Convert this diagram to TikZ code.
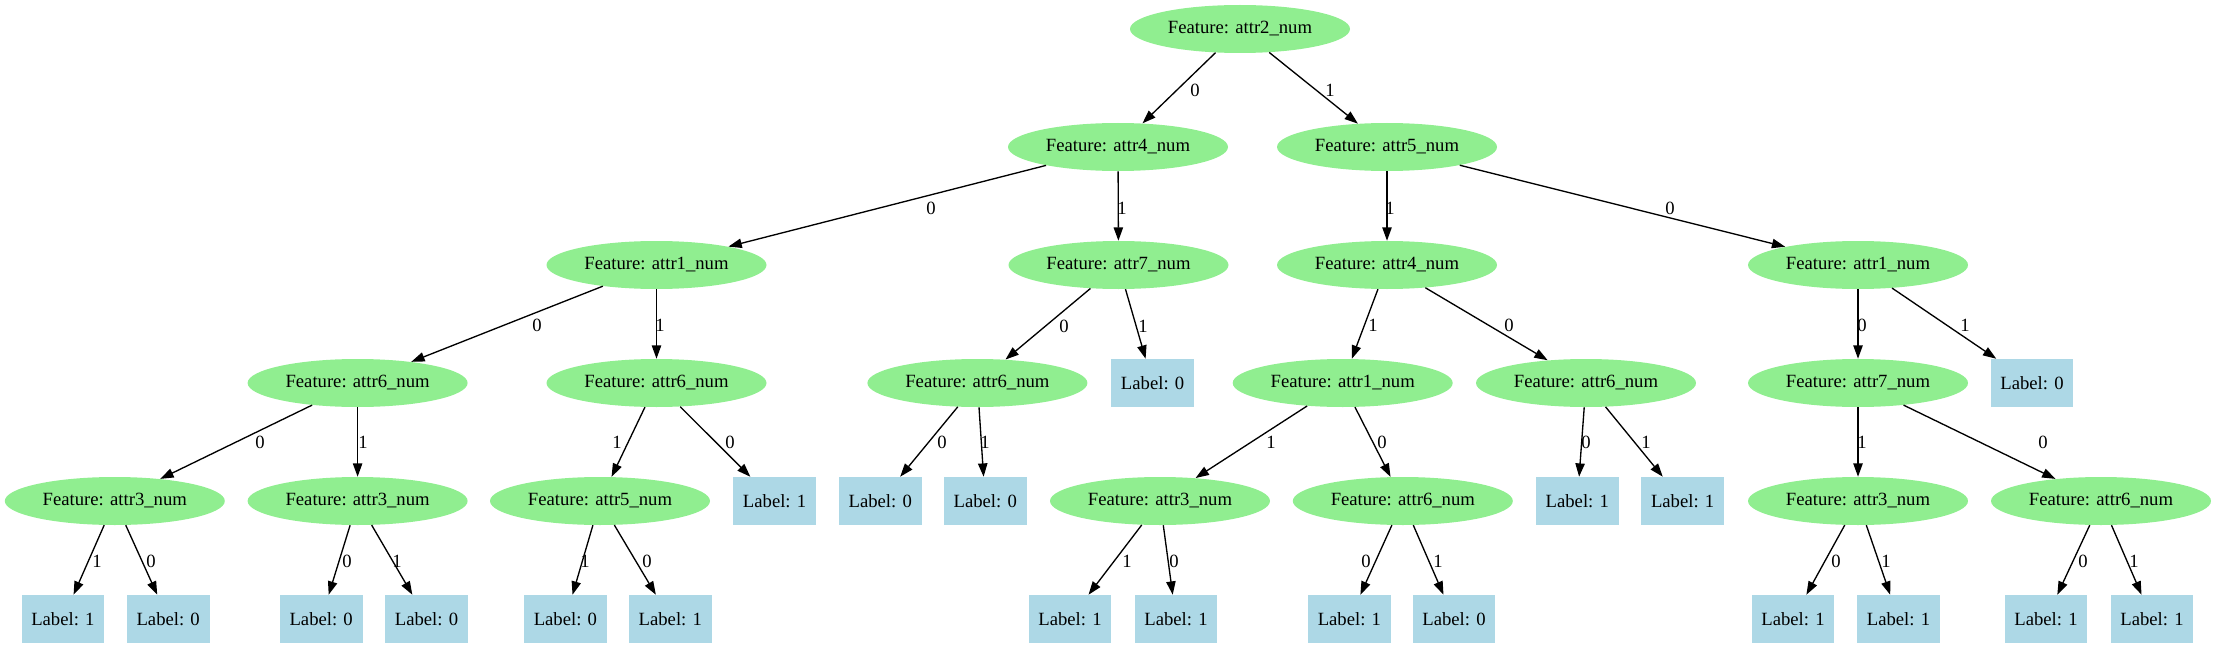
\documentclass[tikz,border=0pt]{standalone}
\usepackage{fontspec}
\setmainfont{Liberation Serif}
\usetikzlibrary{shapes.geometric,arrows.meta}
\definecolor{featgreen}{HTML}{90EE90}
\definecolor{leafblue}{HTML}{ADD8E6}
\newcommand{\tedge}[5]{\draw[conn] (#1) -- (#2); \node[elab] at (#4,#5) {#3};}
\begin{document}
\begin{tikzpicture}[x=0.75pt,y=-0.75pt,
  feat/.style={ellipse, fill=featgreen, draw=none, minimum width=165pt, minimum height=36pt, inner sep=0pt, font=\fontsize{14}{16}\selectfont},
  leaf/.style={rectangle, fill=leafblue, draw=none, minimum width=62pt, minimum height=36pt, inner sep=0pt, font=\fontsize{14}{16}\selectfont},
  conn/.style={-{Triangle[length=10pt,width=7pt]}, line width=1pt, black},
  elab/.style={font=\fontsize{14}{16}\selectfont, inner sep=0pt}]
\useasboundingbox (0,0) rectangle (2215,649);
% level 0
\node[feat] (n0) at (1240,29) {Feature: attr2\_num};
% level 1
\node[feat] (n1) at (1118,147) {Feature: attr4\_num};
\node[feat] (n2) at (1387,147) {Feature: attr5\_num};
% level 2
\node[feat] (n3) at (656.5,265) {Feature: attr1\_num};
\node[feat] (n4) at (1118.5,265) {Feature: attr7\_num};
\node[feat] (n5) at (1387,265) {Feature: attr4\_num};
\node[feat] (n6) at (1858,265) {Feature: attr1\_num};
% level 3
\node[feat] (n7) at (357.6,383) {Feature: attr6\_num};
\node[feat] (n8) at (656.5,383) {Feature: attr6\_num};
\node[feat] (n9) at (977.4,383) {Feature: attr6\_num};
\node[leaf] (n10) at (1152.6,383) {Label: 0};
\node[feat] (n11) at (1342.7,383) {Feature: attr1\_num};
\node[feat] (n12) at (1586,383) {Feature: attr6\_num};
\node[feat] (n13) at (1858,383) {Feature: attr7\_num};
\node[leaf] (n14) at (2032,383) {Label: 0};
% level 4
\node[feat] (n15) at (114.8,501) {Feature: attr3\_num};
\node[feat] (n16) at (357.6,501) {Feature: attr3\_num};
\node[feat] (n17) at (600,501) {Feature: attr5\_num};
\node[leaf] (n18) at (774.6,501) {Label: 1};
\node[leaf] (n19) at (880.2,501) {Label: 0};
\node[leaf] (n20) at (985.2,501) {Label: 0};
\node[feat] (n21) at (1160,501) {Feature: attr3\_num};
\node[feat] (n22) at (1402.8,501) {Feature: attr6\_num};
\node[leaf] (n23) at (1577.3,501) {Label: 1};
\node[leaf] (n24) at (1682.6,501) {Label: 1};
\node[feat] (n25) at (1858,501) {Feature: attr3\_num};
\node[feat] (n26) at (2101,501) {Feature: attr6\_num};
% level 5
\node[leaf] (n27) at (62.9,619) {Label: 1};
\node[leaf] (n28) at (168.2,619) {Label: 0};
\node[leaf] (n29) at (321.2,619) {Label: 0};
\node[leaf] (n30) at (426.5,619) {Label: 0};
\node[leaf] (n31) at (565.4,619) {Label: 0};
\node[leaf] (n32) at (670.3,619) {Label: 1};
\node[leaf] (n33) at (1070,619) {Label: 1};
\node[leaf] (n34) at (1176,619) {Label: 1};
\node[leaf] (n35) at (1349.4,619) {Label: 1};
\node[leaf] (n36) at (1454,619) {Label: 0};
\node[leaf] (n37) at (1793,619) {Label: 1};
\node[leaf] (n38) at (1898.5,619) {Label: 1};
\node[leaf] (n39) at (2046,619) {Label: 1};
\node[leaf] (n40) at (2152,619) {Label: 1};
% edges
\tedge{n0}{n1}{0}{1195}{90}
\tedge{n0}{n2}{1}{1330}{90}
\tedge{n1}{n3}{0}{931}{208}
\tedge{n1}{n4}{1}{1122}{208}
\tedge{n2}{n5}{1}{1390}{208}
\tedge{n2}{n6}{0}{1670}{208}
\tedge{n3}{n7}{0}{537}{325}
\tedge{n3}{n8}{1}{660}{325}
\tedge{n4}{n9}{0}{1064}{326}
\tedge{n4}{n10}{1}{1143}{326}
\tedge{n5}{n11}{1}{1373}{325}
\tedge{n5}{n12}{0}{1509}{325}
\tedge{n6}{n13}{0}{1862}{325}
\tedge{n6}{n14}{1}{1965}{325}
\tedge{n7}{n15}{0}{260}{442}
\tedge{n7}{n16}{1}{363}{442}
\tedge{n8}{n17}{1}{617}{442}
\tedge{n8}{n18}{0}{730}{442}
\tedge{n9}{n19}{0}{942}{442}
\tedge{n9}{n20}{1}{985}{442}
\tedge{n11}{n21}{1}{1271}{442}
\tedge{n11}{n22}{0}{1382}{442}
\tedge{n12}{n23}{0}{1586}{442}
\tedge{n12}{n24}{1}{1646}{442}
\tedge{n13}{n25}{1}{1862}{442}
\tedge{n13}{n26}{0}{2043}{442}
\tedge{n15}{n27}{1}{97}{561}
\tedge{n15}{n28}{0}{151}{561}
\tedge{n16}{n29}{0}{347}{561}
\tedge{n16}{n30}{1}{397}{561}
\tedge{n17}{n31}{1}{585}{561}
\tedge{n17}{n32}{0}{647}{561}
\tedge{n21}{n33}{1}{1127}{561}
\tedge{n21}{n34}{0}{1174}{561}
\tedge{n22}{n35}{0}{1366}{561}
\tedge{n22}{n36}{1}{1438}{561}
\tedge{n25}{n37}{0}{1836}{561}
\tedge{n25}{n38}{1}{1886}{561}
\tedge{n26}{n39}{0}{2083}{561}
\tedge{n26}{n40}{1}{2134}{561}
\end{tikzpicture}
\end{document}
